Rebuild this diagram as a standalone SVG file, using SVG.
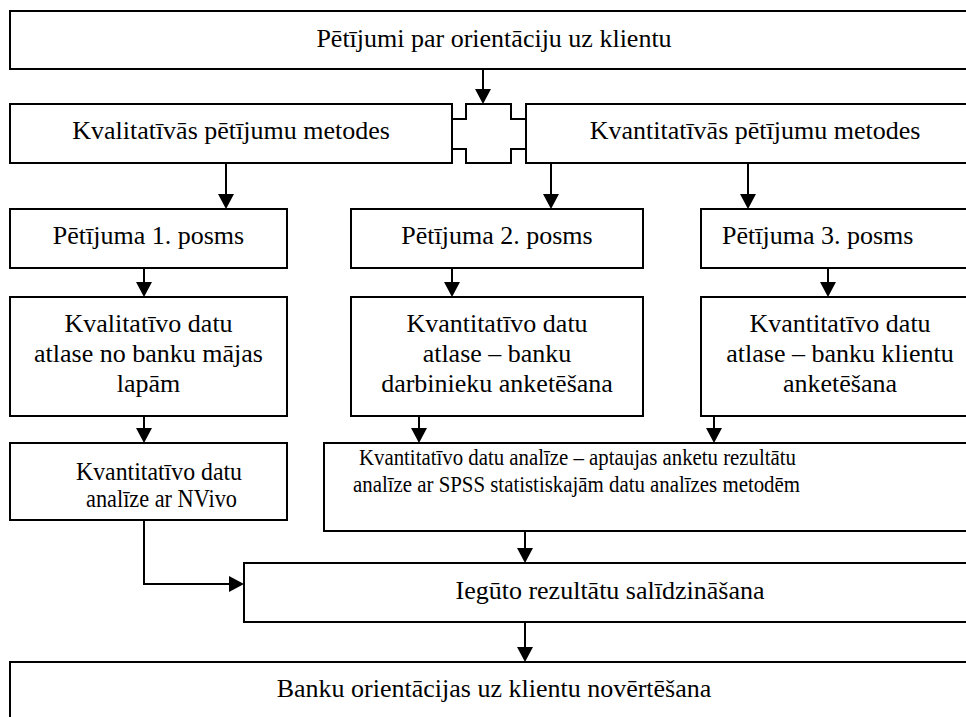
<svg xmlns="http://www.w3.org/2000/svg" width="966" height="717" viewBox="0 0 966 717">
  <style>
    .box { fill: #ffffff; stroke: #000000; stroke-width: 2; }
    text { font-family: "Liberation Serif", "DejaVu Serif", serif; font-size: 26px; fill: #000000; text-anchor: middle; }
    .s { font-size: 24.5px; }
    .xs { font-size: 24px; }
    .lt { text-anchor: start; }
    .edge { fill: none; stroke: #000000; stroke-width: 2; marker-end: url(#arrow); }
  </style>
  <defs>
    <marker id="arrow" markerUnits="userSpaceOnUse" markerWidth="15" markerHeight="16" refX="1" refY="8" orient="auto">
      <path d="M0,0 L15,8 L0,16 z" fill="#000000"/>
    </marker>
  </defs>
  <rect width="966" height="717" fill="#ffffff"/>

  <!-- arrows between the stages -->
  <g id="connectors">
    <line class="edge" x1="483" y1="69" x2="483" y2="90"/>
    <line class="edge" x1="226" y1="163" x2="226" y2="195"/>
    <line class="edge" x1="551" y1="163" x2="551" y2="195"/>
    <line class="edge" x1="748" y1="163" x2="748" y2="195"/>
    <line class="edge" x1="144" y1="268" x2="144" y2="283"/>
    <line class="edge" x1="452" y1="268" x2="452" y2="283"/>
    <line class="edge" x1="828" y1="268" x2="828" y2="283"/>
    <line class="edge" x1="144" y1="416" x2="144" y2="429"/>
    <line class="edge" x1="419" y1="416" x2="419" y2="429"/>
    <line class="edge" x1="714" y1="416" x2="714" y2="429"/>
    <path class="edge" d="M144,520 V584 H230"/>
    <line class="edge" x1="525" y1="531" x2="525" y2="549"/>
    <line class="edge" x1="525" y1="622" x2="525" y2="648"/>
  </g>

  <g id="research">
    <rect class="box" x="10" y="11" width="975" height="58"/>
    <text x="494" y="47">Pētījumi par orientāciju uz klientu</text>
  </g>

  <g id="qualitative-methods">
    <rect class="box" x="10" y="104" width="442" height="59"/>
    <text x="231" y="139">Kvalitatīvās pētījumu metodes</text>
  </g>

  <!-- cross-shaped link joining the two method boxes -->
  <g id="methods-link">
    <path class="box" d="M452,119 H466 V104 H511 V119 H526 V149 H511 V163 H466 V149 H452 Z"/>
  </g>

  <g id="quantitative-methods">
    <rect class="box" x="526" y="104" width="460" height="59"/>
    <text x="755" y="139">Kvantitatīvās pētījumu metodes</text>
  </g>

  <g id="stage-1">
    <rect class="box" x="10" y="209" width="277" height="59"/>
    <text x="148.5" y="244">Pētījuma 1. posms</text>
  </g>

  <g id="stage-2">
    <rect class="box" x="351" y="209" width="292" height="59"/>
    <text x="497" y="244">Pētījuma 2. posms</text>
  </g>

  <g id="stage-3">
    <rect class="box" x="701" y="209" width="285" height="59"/>
    <text class="lt" x="722" y="244">Pētījuma 3. posms</text>
  </g>

  <g id="qualitative-collection">
    <rect class="box" x="10" y="297" width="277" height="119"/>
    <text x="148.5" y="332">Kvalitatīvo datu</text>
    <text x="148.5" y="362">atlase no banku mājas</text>
    <text x="148.5" y="392">lapām</text>
  </g>

  <g id="employee-survey">
    <rect class="box" x="351" y="297" width="292" height="119"/>
    <text x="497" y="332">Kvantitatīvo datu</text>
    <text x="497" y="362">atlase – banku</text>
    <text x="497" y="392">darbinieku anketēšana</text>
  </g>

  <g id="client-survey">
    <rect class="box" x="701" y="297" width="285" height="119"/>
    <text x="840" y="332">Kvantitatīvo datu</text>
    <text x="840" y="362">atlase – banku klientu</text>
    <text x="840" y="392">anketēšana</text>
  </g>

  <g id="nvivo-analysis">
    <rect class="box" x="10" y="443" width="277" height="77"/>
    <text class="s" x="159" y="480" textLength="166" lengthAdjust="spacingAndGlyphs">Kvantitatīvo datu</text>
    <text class="s" x="161.5" y="507" textLength="151" lengthAdjust="spacingAndGlyphs">analīze ar NVivo</text>
  </g>

  <g id="spss-analysis">
    <rect class="box" x="324" y="443" width="662" height="88"/>
    <text class="xs" x="577.5" y="465" textLength="437" lengthAdjust="spacingAndGlyphs">Kvantitatīvo datu analīze – aptaujas anketu rezultātu</text>
    <text class="xs" x="576.5" y="492" textLength="447" lengthAdjust="spacingAndGlyphs">analīze ar SPSS statistiskajām datu analīzes metodēm</text>
  </g>

  <g id="comparison">
    <rect class="box" x="244" y="563" width="742" height="59"/>
    <text x="610" y="599">Iegūto rezultātu salīdzināšana</text>
  </g>

  <g id="evaluation">
    <rect class="box" x="10" y="662" width="975" height="80"/>
    <text x="494" y="697">Banku orientācijas uz klientu novērtēšana</text>
  </g>
</svg>
